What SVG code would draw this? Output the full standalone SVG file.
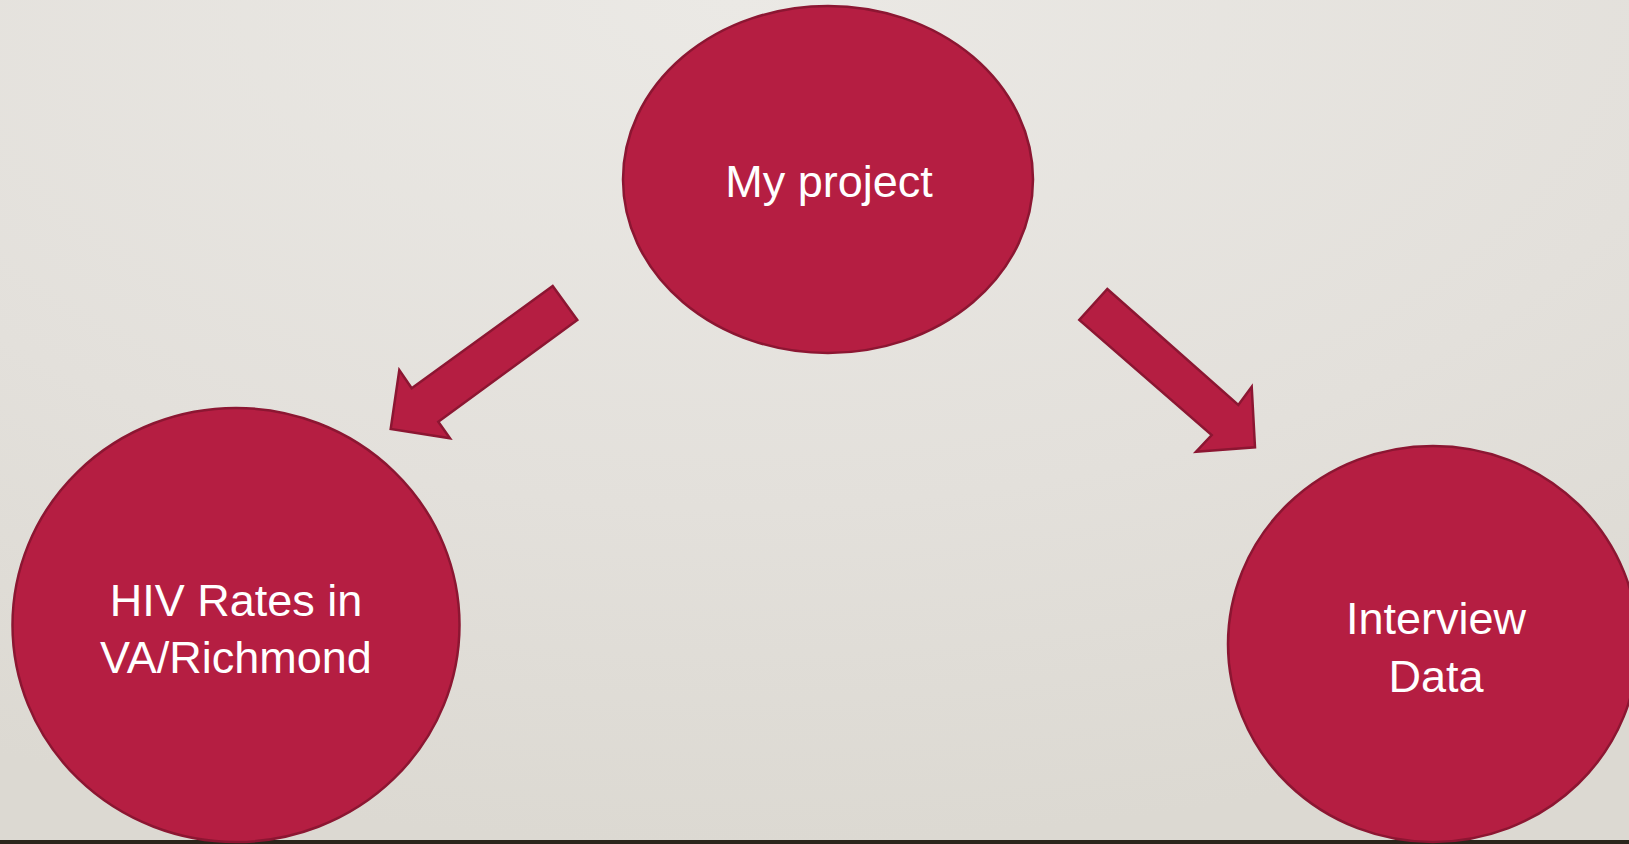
<svg xmlns="http://www.w3.org/2000/svg" width="1629" height="844" viewBox="0 0 1629 844">
<defs>
<radialGradient id="bg" cx="0.45" cy="0" r="1.0" gradientUnits="objectBoundingBox">
<stop offset="0" stop-color="#ebe9e5"/>
<stop offset="0.6" stop-color="#e3e0db"/>
<stop offset="1" stop-color="#dcd9d2"/>
</radialGradient>
<style>
.node{fill:#b51e42;stroke:#8c1632;stroke-width:2.5}
.arrow{fill:#b51e42;stroke:#8c1632;stroke-width:2.5;stroke-linejoin:miter}
.lbl{font-family:"Gill Sans","Liberation Sans",Arial,sans-serif;font-size:45px;fill:#ffffff;text-anchor:middle}
</style>
</defs>
<rect x="0" y="0" width="1629" height="844" fill="url(#bg)"/>
<rect x="0" y="840" width="1629" height="4" fill="#2b251b"/>
<g id="connectors">
<polygon class="arrow" points="552.7,286 577.3,320 438.3,421.7 450,438.3 390.7,429 399.3,370 411.7,388.3"/>
<polygon class="arrow" points="1107.3,289 1238.3,405 1251.7,386.7 1255,447.3 1196,451.7 1211.7,435 1079.3,320"/>
</g>
<g id="node-project">
<ellipse class="node" cx="828" cy="179.5" rx="205" ry="173.5"/>
<text class="lbl" x="829" y="197">My project</text>
</g>
<g id="node-hiv">
<ellipse class="node" cx="236" cy="625" rx="223.5" ry="217"/>
<text class="lbl" x="236" y="615.7">HIV Rates in</text>
<text class="lbl" x="236" y="673.3">VA/Richmond</text>
</g>
<g id="node-interview">
<ellipse class="node" cx="1433" cy="644" rx="205" ry="198"/>
<text class="lbl" x="1436" y="634">Interview</text>
<text class="lbl" x="1436" y="692">Data</text>
</g>
</svg>
